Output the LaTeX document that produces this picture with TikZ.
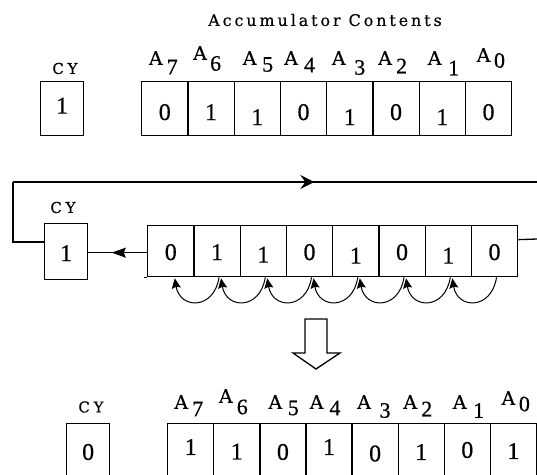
\documentclass[tikz,border=0pt]{standalone}
\usepackage{fontspec}
\setmainfont{Liberation Serif}[FakeBold=0.6]
\newfontfamily\letterfont[FakeBold=0.4]{DejaVu Serif}
\newfontfamily\titlefont[LetterSpace=18,FakeBold=0.4]{DejaVu Serif}
\newfontfamily\cyfont[LetterSpace=25,FakeBold=0.4]{DejaVu Serif}
\usetikzlibrary{arrows.meta,calc,decorations.markings}
\begin{document}
\begin{tikzpicture}[x=1pt,y=-1pt,line width=1.3pt,
  cellbox/.style={draw,inner sep=0pt,anchor=north west,minimum width=46.25pt},
  valtxt/.style={font=\fontsize{24}{24}\selectfont,inner sep=0pt},
  albl/.style={font=\letterfont\fontsize{19}{19}\selectfont,inner sep=0pt},
  dlbl/.style={font=\fontsize{22}{22}\selectfont,inner sep=0pt},
  cylbl/.style={font=\cyfont\fontsize{15}{15}\selectfont,inner sep=0pt},
  titletxt/.style={font=\titlefont\fontsize{16}{16}\selectfont,inner sep=0pt},
  midarr/.style={postaction={decorate},decoration={markings,
     mark=at position #1 with {\arrow{Stealth[length=14pt,width=14pt,inset=5pt]}}}},
  leftarr/.style={postaction={decorate},decoration={markings,
     mark=at position #1 with {\arrow{Stealth[length=14pt,width=10pt,inset=2pt]}}}},
  arcarr/.style={-{Stealth[length=10pt,width=9pt,inset=1.5pt]},line width=1pt}]
\useasboundingbox (0,0) rectangle (537,474);

% ---------------- top row ----------------
\node[titletxt] (title) at (325,20) {Accumulator Contents};
\node[cylbl] (cyt) at (65,68.5) {CY};
\node[cellbox,minimum width=43pt,minimum height=54pt] (cy1) at (40,81) {};
\node[valtxt] (cy1v) at ($(cy1.center)+(0,-3)$) {1};
\foreach \v/\o [count=\k from 0] in {0/3.5,1/3.5,1/8.5,0/3.5,1/8.5,0/3.5,1/8.5,0/3.5}{
  \node[cellbox,minimum height=54pt] (t\k) at (141+\k*46.25,81) {};
  \node[valtxt] (tv\k) at ($(t\k.center)+(0,\o)$) {\v};
}
\foreach \d/\ax/\ay/\dx/\dy [count=\k from 0] in
  {7/-9/-23/7.5/-14, 6/-11/-28/4.6/-17.5, 5/-7.6/-23/10.4/-16.5, 4/-12.4/-23/6/-16,
   3/-11/-23/10/-13.5, 2/-11/-23/5.6/-15, 1/-7.6/-23/11.4/-13, 0/-5/-26/11/-20.5}{
  \node[albl] (ta\k) at ($(t\k.north)+(\ax,\ay)$) {A};
  \node[dlbl] (td\k) at ($(t\k.north)+(\dx,\dy)$) {\d};
}

% ---------------- middle row ----------------
\node[cylbl] (cym) at (63,207.5) {CY};
\node[cellbox,minimum width=43pt,minimum height=56pt] (cy2) at (44,223) {};
\node[valtxt] (cy2v) at ($(cy2.center)+(0,1.5)$) {1};
\foreach \v/\o [count=\k from 0] in {0/1,1/1,1/3.5,0/1,1/4.5,0/1,1/4.5,0/1}{
  \node[cellbox,minimum height=51pt] (m\k) at (147+\k*46.25,225) {};
  \node[valtxt] (mv\k) at ($(m\k.center)+(0,\o)$) {\v};
}
\draw ($(m0.south west)+(-3,0)$) -- (m0.south west);
% rotate loop
\coordinate (cyin) at ($(cy2.north west)+(0,19)$);
\coordinate (lb) at (13,242);
\coordinate (lt) at (13,182);
\coordinate (rt) at (537,182);
\coordinate (rout) at (537,239);
\draw (cyin) -- (lb) -- (lt);
\draw[midarr=0.575] (lt) -- (rt);
\draw ($(m7.east)+(0,-11.5)$) -- (rout);
\draw[leftarr=0.6] ($(m0.west)+(0,1.5)$) -- ($(cy2.east|-m0.west)+(0,1.5)$);
% bit shift arcs
\foreach \k [evaluate=\k as \j using int(\k-1)] in {1,...,7}{
  \draw[arcarr] ($(m\k.south)+(2,0)$) .. controls +(-5,33) and +(5,31) .. ($(m\j.south)+(4,1)$);
}

% hollow down arrow
\draw[line width=1.3pt] (305,319) -- (327,319) -- (327,353) -- (340,353) -- (316,369)
  -- (293,353) -- (305,353) -- cycle;

% ---------------- bottom row ----------------
\node[cylbl] (cyb) at (91,407) {CY};
\node[cellbox,minimum width=43pt,minimum height=56pt] (cy3) at (66,423) {};
\node[valtxt] (cy3v) at ($(cy3.north)+(0,29)$) {0};
\foreach \v/\o [count=\k from 0] in {1/-3.5,1/1,0/1.5,1/-3.5,0/3,1/1.5,0/-0.5,1/0.5}{
  \node[cellbox,minimum width=46.1pt,minimum height=56pt] (b\k) at (167+\k*46.1,423) {};
  \node[valtxt] (bv\k) at ($(b\k.north)+(0,27.5+\o)$) {\v};
}
\foreach \d/\ax/\ay/\dx/\dy [count=\k from 0] in
  {7/-9.5/-21/7/-14, 6/-11/-27/5.5/-16, 5/-7.6/-21/10.4/-15, 4/-12.4/-21/6/-15,
   3/-11/-21/10/-12.5, 2/-11/-21/5.6/-14, 1/-7.6/-21/11.4/-12.5, 0/-5/-25/11/-19}{
  \node[albl] (ba\k) at ($(b\k.north)+(\ax,\ay)$) {A};
  \node[dlbl] (bd\k) at ($(b\k.north)+(\dx,\dy)$) {\d};
}
\end{tikzpicture}
\end{document}
